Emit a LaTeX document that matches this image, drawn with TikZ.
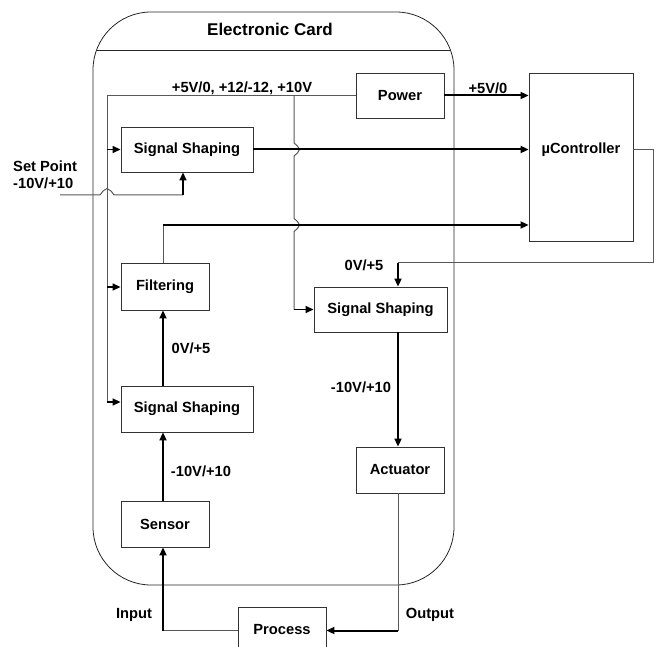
\documentclass[tikz,border=0pt]{standalone}
\usepackage{fontspec}
\setmainfont{Liberation Sans}
\usetikzlibrary{arrows.meta,calc}
\begin{document}
\begin{tikzpicture}[x=1pt,y=-1pt,
  box/.style={draw=black!80,line width=0.9pt,inner sep=0pt,font=\fontsize{14.7}{17}\selectfont\bfseries},
  lbl/.style={inner sep=0pt,font=\fontsize{14.7}{17}\selectfont\bfseries},
  thinline/.style={draw=black!65,line width=1pt},
  thickline/.style={draw=black,line width=2pt},
  arr/.style={thickline,-{Triangle[length=8pt,width=7pt]}},
]
\useasboundingbox (0,0) rectangle (659,647);
% card
\node[draw=black!85,line width=0.8pt,rounded corners=58pt,minimum width=361pt,minimum height=573pt,inner sep=0pt] (card) at (273.5,298.5) {};
\coordinate (sepL) at (96.5,50.5);
\coordinate (sepR) at (450.5,50.5);
\draw[draw=black!85,line width=0.8pt] (sepL) -- (sepR);
\node[lbl,font=\fontsize{17}{20}\selectfont\bfseries] (title) at (270,29) {Electronic Card};

% boxes
\node[box,minimum width=88pt,minimum height=45pt] (power) at (400,95.5) {Power};
\node[box,minimum width=104pt,minimum height=168pt] (uc) at (581,157) {};
\node[lbl] (uctext) at (581,150) {µController};
\node[box,minimum width=132pt,minimum height=45pt] (sst) at (187,149.5) {Signal Shaping};
\node[box,minimum width=88pt,minimum height=47pt] (filt) at (165,286.5) {Filtering};
\node[box,minimum width=132pt,minimum height=46pt] (ssb) at (187,409) {Signal Shaping};
\node[box,minimum width=88pt,minimum height=46pt] (sensor) at (165,524) {Sensor};
\node[box,minimum width=133pt,minimum height=45pt] (ssr) at (380.5,309.5) {Signal Shaping};
\node[box,minimum width=88pt,minimum height=46pt] (act) at (400,470) {Actuator};
\node[box,minimum width=88pt,minimum height=46pt] (proc) at (282,630) {Process};

% labels
\node[lbl] (lbus) at (242,88) {+5V/0, +12/-12, +10V};
\node[lbl] (l5v) at (488,88) {+5V/0};
\node[lbl,align=left,anchor=west] (lsp) at (13,175) {Set Point\\-10V/+10};
\node[lbl] (l05r) at (364,265) {0V/+5};
\node[lbl] (l05l) at (191,348) {0V/+5};
\node[lbl] (l10l) at (201,471) {-10V/+10};
\node[lbl] (l10r) at (361,387) {-10V/+10};
\node[lbl] (lin) at (134,615) {Input};
\node[lbl] (lout) at (430,615) {Output};

% power bus
\coordinate (busT) at (107,95.5);
\coordinate (busB) at (107,402);
\coordinate (bus1) at (107,149.5);
\coordinate (bus2) at (107,287);
\draw[thinline] (power.west) -- (busT) -- (busB);
\draw[arr,line width=1.6pt] (bus1) -- (sst.west);
\draw[arr,line width=1.6pt] (bus2) -- (filt.west |- bus2);
\draw[arr,line width=1.6pt] (busB) -- (ssb.west |- busB);
% branch to right signal shaping
\coordinate (br0) at (294,95.5);
\coordinate (br1) at (294,309.5);
\draw[thinline] (br0) -- (294,143) -- (297.5,146) -- (299.5,149.5) -- (297.5,153) -- (294,156)
  -- (294,218.5) -- (297.5,221.5) -- (299.5,225) -- (297.5,228.5) -- (294,231.5) -- (br1);
\draw[arr,line width=1.6pt] (br1) -- (ssr.west);

% power -> uC
\draw[arr] (power.east) -- (uc.west |- power.east);
% signal shaping top -> uC
\draw[arr] (sst.east) -- (uc.west |- sst.east);
% filtering -> uC
\coordinate (fk) at (163,225);
\draw[thinline] (163,263) -- (fk);
\draw[arr] (fk) -- (uc.west |- fk);
% set point
\coordinate (sp) at (60,195);
\coordinate (spk) at (183,195);
\draw[thinline] (sp) -- (100,195) -- (103,191) -- (107,188.5) -- (111,191) -- (114,195) -- (spk);
\draw[arr,line width=1.6pt] (spk) -- (sst.south -| spk);
% uC -> right signal shaping
\coordinate (u1) at (653,150);
\coordinate (u2) at (653,263);
\coordinate (u3) at (398,263);
\draw[thinline] (uc.east |- u1) -- (u1) -- (u2) -- (u3);
\draw[arr] (u3) -- (ssr.north -| u3);
% right signal shaping -> actuator
\draw[arr] (ssr.south -| u3) -- (act.north -| u3);
% actuator -> process
\coordinate (ak) at (398,630.5);
\draw[thinline] (act.south -| ak) -- (ak);
\draw[arr] (ak) -- (proc.east |- ak);
% process -> sensor
\coordinate (pk) at (163,630.5);
\draw[thinline] (proc.west |- pk) -- (pk);
\draw[arr] (pk) -- (sensor.south -| pk);
% sensor -> ssb -> filtering
\draw[arr] (sensor.north -| pk) -- (ssb.south -| pk);
\draw[arr] (ssb.north -| pk) -- (filt.south -| pk);
\end{tikzpicture}
\end{document}
